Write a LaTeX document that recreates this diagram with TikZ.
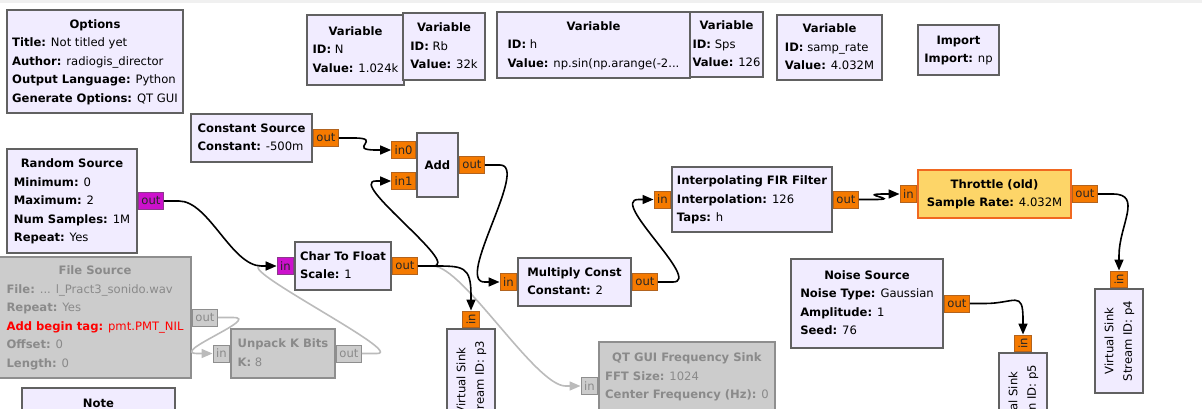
\documentclass[tikz,border=0pt]{standalone}
\usepackage{fontspec}
\setmainfont{DejaVu Sans}
\usepackage{graphicx}
\usetikzlibrary{arrows.meta,positioning}
\definecolor{blkfill}{HTML}{F1ECFF}
\definecolor{blkdraw}{HTML}{616161}
\definecolor{portfill}{HTML}{F57A00}
\definecolor{portdraw}{HTML}{B2631E}
\definecolor{bytefill}{HTML}{CC11CC}
\definecolor{bytedraw}{HTML}{8B3A8B}
\definecolor{offfill}{HTML}{CCCCCC}
\definecolor{offdraw}{HTML}{8E8E8E}
\definecolor{offtext}{HTML}{8A8A8A}
\definecolor{offwire}{HTML}{BBBBBB}
\definecolor{thrfill}{HTML}{FDD568}
\definecolor{thrdraw}{HTML}{F06820}
\newcommand{\blktitle}[1]{\multicolumn{1}{@{}c@{}}{\textbf{#1}}}
\begin{document}
\begin{tikzpicture}[x=1pt, y=-1pt,
    every node/.style={font=\fontsize{11.6}{18.5}\selectfont},
    blk/.style={draw=blkdraw, fill=blkfill, line width=1.8pt, inner sep=0pt},
    offblk/.style={blk, draw=offdraw, fill=offfill, text=offtext},
    port/.style={draw=portdraw, fill=portfill, line width=1pt, inner xsep=3pt,
      inner ysep=0pt, minimum height=17pt, text=black!85},
    bport/.style={port, draw=bytedraw, fill=bytefill},
    offport/.style={port, draw=offdraw, fill=offfill, text=offtext},
    wire/.style={line width=1.6pt, -{Triangle[length=11pt,width=9pt]}},
    offwire/.style={wire, draw=offwire}]
  \useasboundingbox (0,0) rectangle (1202,408);
  \clip (0,0) rectangle (1202,408);
  \fill[black!6] (0,0) rectangle (1202,3);

  \node[blk, minimum width=176pt, minimum height=103pt] (opts) at (95,61.5)
    {\begin{tabular}{@{}l@{}}\blktitle{Options}\\ \textbf{Title:} Not titled yet\\
     \textbf{Author:} radiogis\_director\\ \textbf{Output Language:} Python\\
     \textbf{Generate Options:} QT GUI\end{tabular}};
  \node[blk, minimum width=97pt, minimum height=70pt] (var-n) at (355.5,50)
    {\begin{tabular}{@{}l@{}}\blktitle{Variable}\\ \textbf{ID:} N\\ \textbf{Value:} 1.024k\end{tabular}};
  \node[blk, minimum width=82pt, minimum height=67pt] (var-rb) at (444,46.5)
    {\begin{tabular}{@{}l@{}}\blktitle{Variable}\\ \textbf{ID:} Rb\\ \textbf{Value:} 32k\end{tabular}};
  \node[blk, minimum width=193pt, minimum height=66pt] (var-h) at (593.5,45)
    {\begin{tabular}{@{}l@{}}\blktitle{Variable}\\ \textbf{ID:} h\\ \textbf{Value:} np.sin(np.arange(-2...\end{tabular}};
  \node[blk, minimum width=73pt, minimum height=65pt] (var-sps) at (726.5,44.5)
    {\begin{tabular}{@{}l@{}}\blktitle{Variable}\\ \textbf{ID:} Sps\\ \textbf{Value:} 126\end{tabular}};
  \node[blk, minimum width=105pt, minimum height=65pt] (var-sr) at (829.5,47.5)
    {\begin{tabular}{@{}l@{}}\blktitle{Variable}\\ \textbf{ID:} samp\_rate\\ \textbf{Value:} 4.032M\end{tabular}};
  \node[blk, minimum width=81pt, minimum height=50pt] (imp) at (958.5,50)
    {\begin{tabular}{@{}l@{}}\blktitle{Import}\\ \textbf{Import:} np\end{tabular}};

  \node[blk, minimum width=121pt, minimum height=48pt] (csrc) at (251.5,138)
    {\begin{tabular}{@{}l@{}}\blktitle{Constant Source}\\ \textbf{Constant:} -500m\end{tabular}};
  \node[blk, minimum width=41pt, minimum height=64pt] (add) at (437.5,165) {\textbf{Add}};
  \node[blk, minimum width=130pt, minimum height=104pt] (rsrc) at (72,201)
    {\begin{tabular}{@{}l@{}}\blktitle{Random Source}\\ \textbf{Minimum:} 0\\ \textbf{Maximum:} 2\\
     \textbf{Num Samples:} 1M\\ \textbf{Repeat:} Yes\end{tabular}};
  \node[offblk, minimum width=192pt, minimum height=121pt] (fsrc) at (95,317.5)
    {\begin{tabular}{@{}l@{}}\blktitle{File Source}\\ \textbf{File:} ... l\_Pract3\_sonido.wav\\
     \textbf{Repeat:} Yes\\ {\color{red}\textbf{Add begin tag:} pmt.PMT\_NIL}\\
     \textbf{Offset:} 0\\ \textbf{Length:} 0\end{tabular}};
  \node[offblk, minimum width=104pt, minimum height=49pt] (unp) at (283,353.5)
    {\begin{tabular}{@{}l@{}}\blktitle{Unpack K Bits}\\ \textbf{K:} 8\end{tabular}};
  \node[blk, minimum width=96pt, minimum height=48pt] (c2f) at (343,266)
    {\begin{tabular}{@{}l@{}}\blktitle{Char To Float}\\ \textbf{Scale:} 1\end{tabular}};
  \node[blk, minimum width=113pt, minimum height=48pt] (mult) at (574.5,282)
    {\begin{tabular}{@{}l@{}}\blktitle{Multiply Const}\\ \textbf{Constant:} 2\end{tabular}};
  \node[blk, minimum width=48pt, minimum height=104pt] (p3) at (471,381)
    {\rotatebox{90}{\begin{tabular}{@{}c@{}}Virtual Sink\\ Stream ID: p3\end{tabular}}};
  \node[offblk, minimum width=176pt, minimum height=88pt] (qt) at (687,386)
    {\begin{tabular}{@{}l@{}}\blktitle{QT GUI Frequency Sink}\\ \textbf{FFT Size:} 1024\\
     \textbf{Center Frequency (Hz):} 0\\ \mbox{}\end{tabular}};
  \node[blk, minimum width=160pt, minimum height=65pt] (fir) at (752,199.5)
    {\begin{tabular}{@{}l@{}}\blktitle{Interpolating FIR Filter}\\ \textbf{Interpolation:} 126\\
     \textbf{Taps:} h\end{tabular}};
  \node[blk, draw=thrdraw, fill=thrfill, minimum width=153pt, minimum height=48pt] (thr) at (994.5,194)
    {\begin{tabular}{@{}l@{}}\blktitle{Throttle (old)}\\ \textbf{Sample Rate:} 4.032M\end{tabular}};
  \node[blk, minimum width=48pt, minimum height=104pt] (p4) at (1119,341)
    {\rotatebox{90}{\begin{tabular}{@{}c@{}}Virtual Sink\\ Stream ID: p4\end{tabular}}};
  \node[blk, minimum width=152pt, minimum height=89pt] (noise) at (867,303.5)
    {\begin{tabular}{@{}l@{}}\blktitle{Noise Source}\\ \textbf{Noise Type:} Gaussian\\
     \textbf{Amplitude:} 1\\ \textbf{Seed:} 76\end{tabular}};
  \node[blk, minimum width=48pt, minimum height=104pt] (p5) at (1023,405)
    {\rotatebox{90}{\begin{tabular}{@{}c@{}}Virtual Sink\\ Stream ID: p5\end{tabular}}};
  \node[blk, minimum width=153pt, minimum height=50pt] (note) at (98.5,413)
    {\begin{tabular}{@{}l@{}}\blktitle{Note}\\ \mbox{}\end{tabular}};

  \node[bport, right=0pt of rsrc] (rsrc-out) {out};
  \node[bport, left=0pt of c2f] (c2f-in) {in};
  \node[port, right=0pt of csrc] (csrc-out) {out};
  \node[port, anchor=east] (add-in0) at ([yshift=15pt]add.west) {in0};
  \node[port, anchor=east] (add-in1) at ([yshift=-16pt]add.west) {in1};
  \node[port, right=0pt of add] (add-out) {out};
  \node[port, right=0pt of c2f] (c2f-out) {out};
  \node[port, left=0pt of mult] (mult-in) {in};
  \node[port, right=0pt of mult] (mult-out) {out};
  \node[port, left=0pt of fir] (fir-in) {in};
  \node[port, right=0pt of fir] (fir-out) {out};
  \node[port, left=0pt of thr] (thr-in) {in};
  \node[port, right=0pt of thr] (thr-out) {out};
  \node[port, right=0pt of noise] (noise-out) {out};
  \node[port, rotate=90, anchor=west] (p3-in) at (p3.north) {in};
  \node[port, rotate=90, anchor=west] (p4-in) at (p4.north) {in};
  \node[port, rotate=90, anchor=west] (p5-in) at (p5.north) {in};
  \node[offport, right=0pt of fsrc] (fsrc-out) {out};
  \node[offport, left=0pt of unp] (unp-in) {in};
  \node[offport, right=0pt of unp] (unp-out) {out};
  \node[offport, left=0pt of qt] (qt-in) {in};

  \draw[offwire] (fsrc-out.east) -- ++(15,0) .. controls +(30,0) and +(-30,0) .. ([xshift=-15pt]unp-in.west) -- (unp-in.west);
  \draw[offwire] (unp-out.east) -- ++(15,0) .. controls +(30,0) and +(-30,0) .. ([xshift=-15pt]c2f-in.west) -- (c2f-in.west);
  \draw[offwire] (c2f-out.east) -- ++(15,0) .. controls +(30,0) and +(-30,0) .. ([xshift=-15pt]qt-in.west) -- (qt-in.west);

  \draw[wire] (rsrc-out.east) -- ++(15,0) .. controls +(30,0) and +(-30,0) .. ([xshift=-15pt]c2f-in.west) -- (c2f-in.west);
  \draw[wire] (csrc-out.east) -- ++(15,0) .. controls +(30,0) and +(-30,0) .. ([xshift=-15pt]add-in0.west) -- (add-in0.west);
  \draw[wire] (c2f-out.east) -- ++(15,0) .. controls +(30,0) and +(-30,0) .. ([xshift=-15pt]add-in1.west) -- (add-in1.west);
  \draw[wire] (c2f-out.east) -- ++(15,0) .. controls +(30,0) and +(0,-30) .. ([yshift=15pt]p3-in.east) -- (p3-in.east);
  \draw[wire] (add-out.east) -- ++(15,0) .. controls +(30,0) and +(-30,0) .. ([xshift=-15pt]mult-in.west) -- (mult-in.west);
  \draw[wire] (mult-out.east) -- ++(15,0) .. controls +(30,0) and +(-30,0) .. ([xshift=-15pt]fir-in.west) -- (fir-in.west);
  \draw[wire] (fir-out.east) -- ++(15,0) .. controls +(30,0) and +(-30,0) .. ([xshift=-15pt]thr-in.west) -- (thr-in.west);
  \draw[wire] (thr-out.east) -- ++(15,0) .. controls +(30,0) and +(0,-30) .. ([yshift=15pt]p4-in.east) -- (p4-in.east);
  \draw[wire] (noise-out.east) -- ++(15,0) .. controls +(30,0) and +(0,-30) .. ([yshift=15pt]p5-in.east) -- (p5-in.east);
\end{tikzpicture}
\end{document}
